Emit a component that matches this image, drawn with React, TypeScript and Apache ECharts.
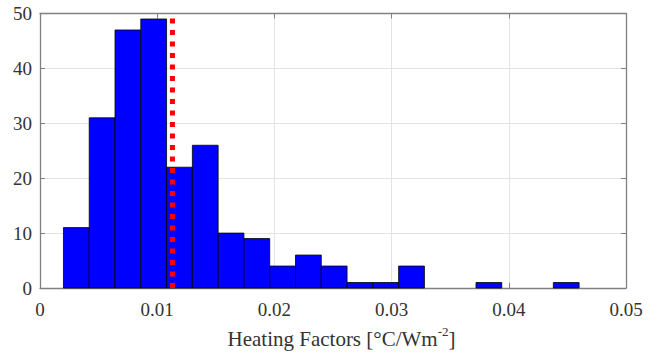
import React, { useEffect, useRef } from "react";
import * as echarts from "echarts";

const binLefts = [0.002, 0.0042, 0.0064, 0.0086, 0.0108, 0.013, 0.0152, 0.0174, 0.0196, 0.0218, 0.024, 0.0262, 0.0284, 0.0306, 0.0328, 0.035, 0.0372, 0.0394, 0.0416, 0.0438];
const binWidth = 0.0022;
const counts = [11, 31, 47, 49, 22, 26, 10, 9, 4, 6, 4, 1, 1, 4, 0, 0, 1, 0, 0, 1];
const meanValue = 0.0113;
const xTicks = [0, 0.01, 0.02, 0.03, 0.04, 0.05];
const yTicks = [0, 10, 20, 30, 40, 50];

const FONT = "Liberation Serif";
const AXIS_COLOR = "#808080";
const GRID_COLOR = "#e3e3e3";
const LABEL_COLOR = "#333333";

export default function App() {
  const ref = useRef<HTMLDivElement>(null);
  useEffect(() => {
    document.body.style.margin = "0";
    if (!ref.current) return;
    const chart = echarts.init(ref.current, undefined, { renderer: "svg" });
    const histData = binLefts.map((l, i) => [l, l + binWidth, counts[i]]);
    const xMin = xTicks[0];
    const xMax = xTicks[xTicks.length - 1];
    const yMin = yTicks[0];
    const yMax = yTicks[yTicks.length - 1];
    const tickRich = { t: { fontFamily: FONT, fontSize: 19, color: LABEL_COLOR } };
    const baseAxis = {
      type: "value",
      axisLine: { show: true, onZero: false, lineStyle: { color: AXIS_COLOR, width: 1.3 } },
      axisTick: { show: true, inside: true, length: 5, lineStyle: { color: AXIS_COLOR } },
      splitLine: { show: true, lineStyle: { color: GRID_COLOR, width: 1 } },
    };
    chart.setOption({
      animation: false,
      backgroundColor: "#ffffff",
      textStyle: { fontFamily: FONT },
      grid: { left: 40, right: 32, top: 13.5, bottom: 63.5, containLabel: false },
      xAxis: [
        {
          ...baseAxis,
          position: "bottom",
          min: xMin,
          max: xMax,
          interval: 0.01,
          axisLabel: {
            show: true,
            margin: 12,
            fontFamily: FONT,
            fontSize: 19,
            color: LABEL_COLOR,
            rich: tickRich,
            formatter: (v: number) => "{t|" + String(Number(v.toFixed(4))) + "}",
          },
          name: "{n|Heating Factors [°C/Wm}{s|-2}{n|]}",
          nameLocation: "middle",
          nameGap: 37,
          nameTextStyle: {
            fontFamily: FONT,
            fontSize: 21,
            color: LABEL_COLOR,
            padding: [0, 0, 0, 17],
            rich: {
              n: { fontFamily: FONT, fontSize: 21, color: LABEL_COLOR, lineHeight: 24, verticalAlign: "bottom" },
              s: { fontFamily: FONT, fontSize: 13, color: LABEL_COLOR, lineHeight: 14, verticalAlign: "top" },
            },
          },
        },
        {
          ...baseAxis,
          position: "top",
          min: xMin,
          max: xMax,
          interval: 0.01,
          axisLabel: { show: false },
          splitLine: { show: false },
        },
      ],
      yAxis: [
        {
          ...baseAxis,
          position: "left",
          min: yMin,
          max: yMax,
          interval: 10,
          axisLabel: {
            show: true,
            margin: 8,
            fontFamily: FONT,
            fontSize: 19,
            color: LABEL_COLOR,
            rich: tickRich,
            formatter: (v: number) => "{t|" + String(v) + "}",
          },
        },
        {
          ...baseAxis,
          position: "right",
          min: yMin,
          max: yMax,
          interval: 10,
          axisLabel: { show: false },
          splitLine: { show: false },
        },
      ],
      series: [
        {
          type: "custom",
          xAxisIndex: 0,
          yAxisIndex: 0,
          data: histData,
          encode: { x: [0, 1], y: 2 },
          renderItem: (params: any, api: any) => {
            const h = api.value(2);
            if (!h) return null;
            const p0 = api.coord([api.value(0), 0]);
            const p1 = api.coord([api.value(1), h]);
            return {
              type: "rect",
              shape: { x: p0[0], y: p1[1], width: p1[0] - p0[0], height: p0[1] - p1[1] },
              style: { fill: "#0000ff", stroke: "#000000", lineWidth: 0.8 },
            };
          },
          z: 2,
        },
        {
          type: "line",
          xAxisIndex: 0,
          yAxisIndex: 0,
          data: [
            [meanValue, yMin],
            [meanValue, yMax],
          ],
          symbol: "none",
          lineStyle: { color: "#ff0000", width: 5, type: [5, 6.5], cap: "butt" },
          z: 3,
        },
      ],
    });
    return () => chart.dispose();
  }, []);
  return <div ref={ref} style={{ width: 658, height: 354 }} />;
}
